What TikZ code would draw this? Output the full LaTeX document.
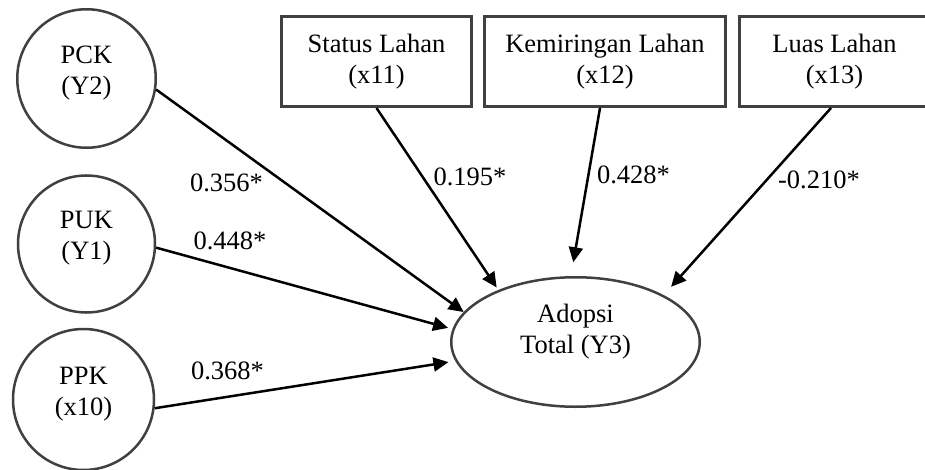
\documentclass[tikz,border=0pt]{standalone}
\usepackage{fontspec}
\setmainfont{Liberation Serif}
\usetikzlibrary{shapes.geometric,arrows.meta}
\definecolor{bord}{HTML}{404040}
\begin{document}
\begin{tikzpicture}[x=1pt,y=-1pt,
  every node/.style={font=\fontsize{26.5}{31}\selectfont, inner sep=0pt},
  latent/.style={circle,draw=bord,line width=2.5pt,align=center,text depth=17pt},
  obsbox/.style={rectangle,draw=bord,line width=3pt,minimum height=90pt,align=center},
  result/.style={ellipse,draw=bord,line width=2.5pt,align=center,text depth=27pt,
    minimum width=248.5pt,minimum height=129.5pt},
  conn/.style={draw=black,line width=2.5pt,-{Triangle[length=15pt,width=14pt]}},
  coef/.style={}
]
\clip (0,0) rectangle (925,470);
\fill[white] (0,0) rectangle (925,470);

% latent variables
\node[latent,minimum size=138.5pt] (pck) at (86.5,78.5) {PCK\\(Y2)};
\node[latent,minimum size=137pt] (puk) at (86.5,244) {PUK\\(Y1)};
\node[latent,minimum size=141pt] (ppk) at (83.5,399.5) {PPK\\(x10)};

% observed variables
\node[obsbox,minimum width=190pt] (status) at (376.5,61.5) {Status Lahan\\(x11)};
\node[obsbox,minimum width=241pt] (kem) at (605,61.5) {Kemiringan Lahan\\(x12)};
\node[obsbox,minimum width=190pt] (luas) at (834.5,61.5) {Luas Lahan\\(x13)};

% outcome
\node[result] (adopsi) at (575.5,342) {Adopsi\\Total (Y3)};

% connectors
\draw[conn] (pck.-9.3) -- (adopsi.165);
\draw[conn,shorten >=4.5pt] (puk.-3.3) -- (adopsi.174);
\draw[conn,shorten >=7pt] (ppk.-7.2) -- (adopsi.189.5);
\draw[conn,shorten >=3pt] (status.south) -- (adopsi.146);
\draw[conn,shorten >=14pt] ([xshift=-5pt]kem.south) -- (adopsi.94.3);
\draw[conn,shorten >=11pt] ([xshift=-3.5pt]luas.south) -- (adopsi.28);

% coefficients
\node[coef] (c1) at (226.5,182.5) {0.356*};
\node[coef] (c2) at (230,241) {0.448*};
\node[coef] (c3) at (227.5,371) {0.368*};
\node[coef] (c4) at (470,177) {0.195*};
\node[coef] (c5) at (633.5,174.5) {0.428*};
\node[coef] (c6) at (819,180) {-0.210*};
\end{tikzpicture}
\end{document}
